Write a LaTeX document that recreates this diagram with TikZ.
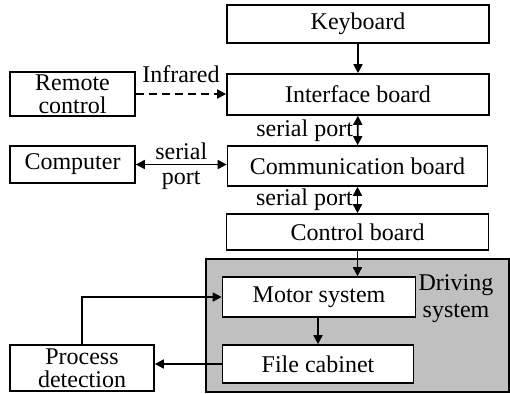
\documentclass[tikz,border=0pt]{standalone}
\usepackage{fontspec}
\setmainfont{Liberation Serif}
\usepackage{tikz}
\usetikzlibrary{arrows.meta,positioning}

\begin{document}
\begin{tikzpicture}[
  x=0.5pt, y=-0.5pt,
  font=\fontsize{12}{11.5}\selectfont,
  bx/.style={draw, line width=0.8pt, fill=white, align=center, inner sep=0.5pt},
  ar/.style={-{Triangle[length=4.5pt,width=4.5pt]}, line width=0.8pt},
  dbl/.style={{Triangle[length=4.5pt,width=4.5pt]}-{Triangle[length=4.5pt,width=4.5pt]}, line width=0.8pt},
  lb/.style={inner sep=1pt}
]
\useasboundingbox (0,0) rectangle (510,393);
\clip (0,0) rectangle (510,393);
% driving system background
\path[draw, line width=0.8pt, fill={rgb,255:red,192;green,192;blue,192}] (206,259) rectangle (509,392);
\node[lb, font=\fontsize{12}{13.5}\selectfont, align=center] (drv) at (456,299) {Driving\\system};
% main column
\node[bx, minimum width=131pt, minimum height=19pt] (kbd) at (358,24) {Keyboard};
\node[bx, minimum width=131pt, minimum height=20.5pt] (ifc) at (358,94.5) {Interface board};
\node[bx, minimum width=130pt, minimum height=20pt] (com) at (357.5,166) {Communication board};
\node[bx, minimum width=131pt, minimum height=18pt] (ctl) at (357.5,232) {Control board};
% left column
\node[bx, minimum width=62.5pt, minimum height=22pt] (rem) at (72.5,94) {Remote\\control};
\node[bx, minimum width=62.5pt, minimum height=18.5pt] (cmp) at (72.5,164.5) {Computer};
\node[bx, minimum width=72pt, minimum height=23pt] (prc) at (82,368) {Process\\detection};
% inside driving system
\node[bx, minimum width=96.5pt, minimum height=20pt] (mot) at (319,297) {Motor system};
\node[bx, minimum width=95.5pt, minimum height=19pt] (fil) at (318,364) {File cabinet};
% arrows
\draw[ar] (kbd) -- (ifc);
\draw[ar, dash pattern=on 4pt off 2.5pt] (rem.east) -- (rem.east -| ifc.west)
  node[lb, midway, above=4pt] (ir) {Infrared};
\draw[dbl] (ifc) -- (com) node[lb, midway, left=1pt] (sp1) {serial port};
\draw[dbl] (cmp.east) -- (cmp.east -| com.west)
  node[lb, midway, above=1pt] (sr) {serial}
  node[lb, midway, below=2pt] (pt) {port};
\draw[dbl] (com) -- (ctl) node[lb, midway, left=1pt] (sp2) {serial port};
\draw[ar] (ctl.south) -- (ctl.south |- mot.north);
\draw[ar] (mot.south -| fil) -- (fil);
\draw[ar] (fil.west) -- (fil.west -| prc.east);
\draw[ar] (prc.north) |- (mot.west);
\end{tikzpicture}
\end{document}
